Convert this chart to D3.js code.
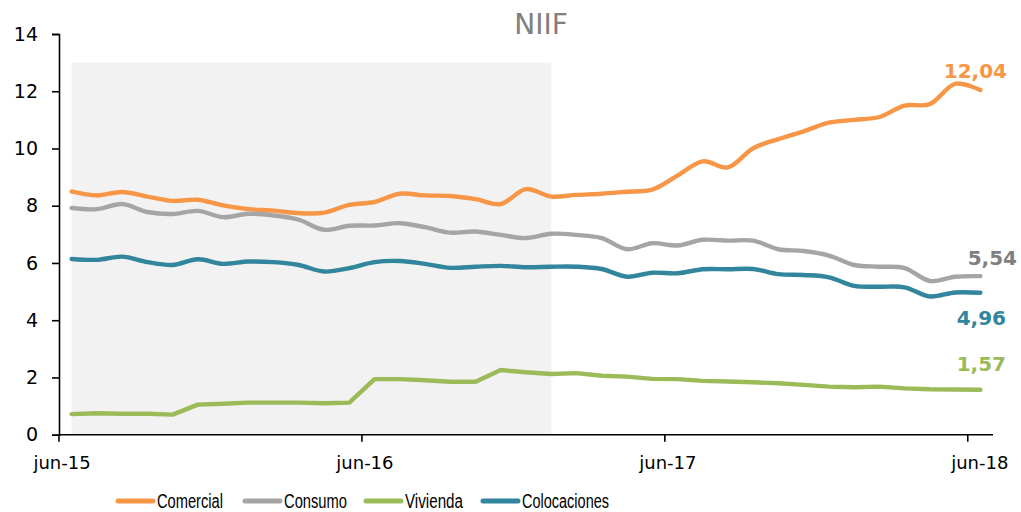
<!DOCTYPE html>
<html>
<head>
<meta charset="utf-8">
<script src="https://cdn.jsdelivr.net/npm/d3@7"></script>
<style>
  body { margin: 0; background: #fff; }
  svg { display: block; }
</style>
</head>
<body>
<div id="chart"></div>
<script>
var width = 1021
var height = 512

// meses (eje categorico)
var months = ["jun-15","jul-15","ago-15","sep-15","oct-15","nov-15","dic-15","ene-16","feb-16","mar-16","abr-16","may-16",
  "jun-16","jul-16","ago-16","sep-16","oct-16","nov-16","dic-16","ene-17","feb-17","mar-17","abr-17","may-17",
  "jun-17","jul-17","ago-17","sep-17","oct-17","nov-17","dic-17","ene-18","feb-18","mar-18","abr-18","may-18","jun-18"]
var tickMonths = ["jun-15","jun-16","jun-17","jun-18"]
var yTicks = [0, 2, 4, 6, 8, 10, 12, 14]

var comercial = [8.50,8.36,8.48,8.32,8.17,8.21,8.01,7.88,7.83,7.74,7.76,8.03,8.13,8.42,8.36,8.34,8.23,8.06,8.58,8.32,8.38,8.42,8.49,8.56,9.05,9.55,9.34,10.01,10.33,10.60,10.90,11.00,11.10,11.50,11.55,12.26,12.04]
var consumo = [7.92,7.88,8.06,7.78,7.71,7.82,7.60,7.72,7.66,7.51,7.16,7.30,7.31,7.39,7.25,7.06,7.10,6.98,6.87,7.02,6.98,6.87,6.48,6.69,6.61,6.81,6.78,6.78,6.48,6.42,6.26,5.93,5.87,5.82,5.37,5.52,5.54]
var vivienda = [0.72,0.75,0.73,0.73,0.70,1.05,1.08,1.12,1.12,1.12,1.10,1.12,1.94,1.94,1.90,1.85,1.85,2.26,2.18,2.12,2.15,2.06,2.03,1.95,1.94,1.88,1.86,1.83,1.80,1.74,1.68,1.66,1.68,1.62,1.59,1.58,1.57]
var colocaciones = [6.14,6.11,6.22,6.03,5.93,6.13,5.97,6.05,6.03,5.93,5.70,5.82,6.03,6.07,5.97,5.83,5.87,5.90,5.85,5.87,5.87,5.79,5.52,5.66,5.64,5.78,5.78,5.79,5.61,5.58,5.50,5.20,5.17,5.15,4.83,4.97,4.96]

// periodo sombreado
var shadeFrom = "jun-15"
var shadeTo = "ene-17"
var shadeTop = 13

var series = [
  { name: "Comercial", values: comercial, color: "#F79646", labelColor: "#F79646", smooth: true, dx: -5, dy: -12 },
  { name: "Consumo", values: consumo, color: "#A5A5A5", labelColor: "#7F7F7F", smooth: true, dx: 12, dy: -11 },
  { name: "Vivienda", values: vivienda, color: "#9BBB59", labelColor: "#9BBB59", smooth: false, dx: 1, dy: -19 },
  { name: "Colocaciones", values: colocaciones, color: "#31859C", labelColor: "#31859C", smooth: true, dx: 1, dy: 32 }
]

var svg = d3.select("#chart").append("svg")
  .attr("width", width)
  .attr("height", height)

var x = d3.scaleBand().domain(months).range([59, 993]).padding(0)
var y = d3.scaleLinear().domain([0, 14]).range([434.7, 34])
var cx = function(m) { return x(m) + x.bandwidth() / 2 }

// sombra
svg.append("rect")
  .attr("x", cx(shadeFrom))
  .attr("y", y(shadeTop))
  .attr("width", cx(shadeTo) - cx(shadeFrom))
  .attr("height", y(0) - y(shadeTop))
  .attr("fill", "#F2F2F2")

// titulo
svg.append("text")
  .attr("x", 541)
  .attr("y", 34)
  .attr("text-anchor", "middle")
  .style("font-family", "'DejaVu Sans', sans-serif")
  .style("font-size", "28px")
  .style("fill", "#808080")
  .text("NIIF")

// eje y
var yAxis = svg.append("g")
  .attr("transform", "translate(59,0)")
  .call(d3.axisLeft(y).tickValues(yTicks).tickSize(7).tickPadding(14).tickFormat(d3.format("d")))
yAxis.select(".domain").attr("stroke", "#000").attr("stroke-width", 1.6)
yAxis.selectAll(".tick line").attr("stroke", "#000").attr("stroke-width", 1.6)
yAxis.selectAll("text")
  .style("font-family", "'DejaVu Sans', sans-serif")
  .style("font-size", "19px")
  .style("fill", "#000")

// eje x
var xAxis = svg.append("g").attr("transform", "translate(0," + y(0) + ")")
xAxis.append("line")
  .attr("x1", 59).attr("x2", 993)
  .attr("stroke", "#000").attr("stroke-width", 1.6)
var xt = xAxis.selectAll(".xtick").data(tickMonths).enter().append("g")
  .attr("class", "xtick")
  .attr("transform", function(d) { return "translate(" + x(d) + ",0)" })
xt.append("line").attr("y2", 7).attr("stroke", "#000").attr("stroke-width", 1.6)
xt.append("text")
  .attr("x", function(d, i) { return i == tickMonths.length - 1 ? 12 : 3 })
  .attr("y", 34)
  .attr("text-anchor", "middle")
  .style("font-family", "'DejaVu Sans', sans-serif")
  .style("font-size", "18px")
  .style("fill", "#000")
  .text(function(d) { return d })

// lineas
series.forEach(function(s) {
  var line = d3.line()
    .x(function(d, i) { return cx(months[i]) })
    .y(function(d) { return y(d) })
    .curve(s.smooth ? d3.curveCatmullRom.alpha(0.5) : d3.curveLinear)
  svg.append("path")
    .datum(s.values)
    .attr("d", line)
    .attr("fill", "none")
    .attr("stroke", s.color)
    .attr("stroke-width", 4.4)
    .attr("stroke-linecap", "round")
    .attr("stroke-linejoin", "round")
})

// etiquetas del ultimo dato
var fmt = function(v) { return d3.format(".2f")(v).replace(".", ",") }
series.forEach(function(s) {
  var last = months.length - 1
  svg.append("text")
    .attr("x", cx(months[last]) + s.dx)
    .attr("y", y(s.values[last]) + s.dy)
    .attr("text-anchor", "middle")
    .style("font-family", "'DejaVu Sans', sans-serif")
    .style("font-weight", "bold")
    .style("font-size", "20px")
    .style("fill", s.labelColor)
    .text(fmt(s.values[last]))
})

// leyenda
var legendX = [118, 245, 366, 483]
var legendW = [66, 63, 58, 87]
var lg = svg.selectAll(".legend").data(series).enter().append("g")
  .attr("class", "legend")
  .attr("transform", function(d, i) { return "translate(" + legendX[i] + ",501)" })
lg.append("line")
  .attr("x1", 0).attr("x2", 35)
  .attr("stroke", function(d) { return d.color })
  .attr("stroke-width", 5)
  .attr("stroke-linecap", "round")
lg.append("text")
  .attr("x", 39)
  .attr("y", 7)
  .attr("textLength", function(d, i) { return legendW[i] })
  .attr("lengthAdjust", "spacingAndGlyphs")
  .style("font-family", "'Liberation Sans', Arial, sans-serif")
  .style("font-size", "20px")
  .style("fill", "#000")
  .text(function(d) { return d.name })
</script>
</body>
</html>
